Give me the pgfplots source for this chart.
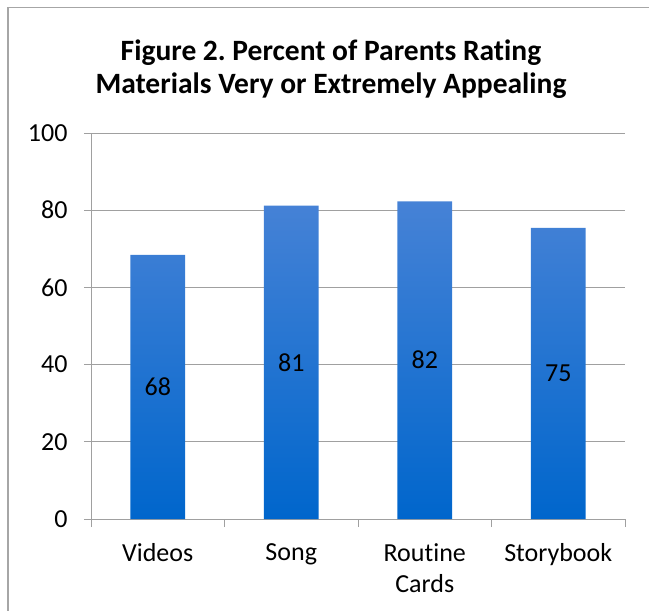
\documentclass[border=0pt]{standalone}
\usepackage{pgfplots}
\usepackage{pgfplotstable}
\pgfplotsset{compat=1.18}
\usepackage{fontspec}
\setmainfont[Ligatures=NoCommon]{Carlito}
\frenchspacing
\definecolor{barTop}{RGB}{70,130,214}
\definecolor{barBot}{RGB}{0,102,204}
\definecolor{gridc}{RGB}{160,160,160}
\definecolor{framec}{RGB}{166,166,166}
\pgfplotstableread{
x v
0 68.4
1 81.2
2 82.3
3 75.4
}\datatable
\begin{document}
\begin{tikzpicture}
\path[use as bounding box] (0,0) rectangle (649bp,-611bp);
\draw[framec, line width=1.5bp] (8bp,-611bp) -- (8bp,-7.5bp) -- (649bp,-7.5bp);
\begin{axis}[
  at={(91bp,-519bp)}, anchor=south west, scale only axis,
  width=534bp, height=386bp,
  xmin=-0.5, xmax=3.5, ymin=0, ymax=100,
  ytick={0,20,...,100},
  xtick={0,1,2,3},
  xticklabels={Videos,Song,{Routine\\Cards},Storybook},
  x tick label style={align=center, font=\fontsize{26bp}{31bp}\selectfont, yshift=-14bp},
  y tick label style={font=\fontsize{26bp}{30bp}\selectfont, xshift=-13bp},
  major x tick style={draw=none},
  extra x ticks={-0.5,0.5,1.5,2.5,3.5},
  extra x tick labels={},
  extra x tick style={major x tick style={draw=gridc, line width=1bp}, major tick length=8bp},
  tick align=outside,
  major tick length=7bp,
  ytick style={draw=gridc, line width=1bp},
  ymajorgrids, grid style={gridc, line width=1bp},
  axis x line*=bottom, axis y line*=left,
  axis line style={gridc, line width=1bp, -},
  /pgf/number format/assume math mode=true,
]
\addplot[ybar, bar width=0.41, draw=none, top color=barTop, bottom color=barBot] table[x=x, y=v] {\datatable};
\addplot[only marks, mark=none, point meta=explicit,
  nodes near coords={\pgfmathprintnumber[fixed, precision=0]{\pgfplotspointmeta}},
  nodes near coords style={anchor=center, text=black, font=\fontsize{26bp}{30bp}\selectfont}]
  table[x=x, y expr=\thisrow{v}/2, meta=v] {\datatable};
\end{axis}
\node[font=\bfseries\fontsize{29.5bp}{33bp}\selectfont, align=center] at (331bp,-69bp) {Figure 2. Percent of Parents Rating\\Materials Very or Extremely Appealing};
\end{tikzpicture}
\end{document}
